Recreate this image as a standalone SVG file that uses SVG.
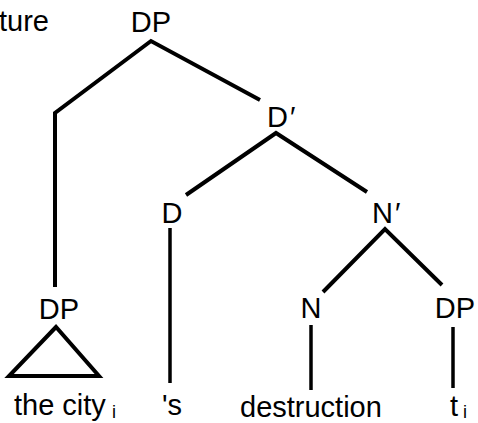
<svg xmlns="http://www.w3.org/2000/svg" width="478" height="423" viewBox="0 0 478 423">
  <style>
    text { font-family: "Liberation Sans", Arial, sans-serif; font-size: 29px; fill: #000; }
    .lbl { text-anchor: middle; }
    .sub { font-size: 18px; }
    .edge { stroke: #000; stroke-width: 4; fill: none; stroke-linejoin: miter; stroke-linecap: butt; }
    .stem { stroke: #000; stroke-width: 3.5; fill: none; }
  </style>

  <rect width="478" height="423" fill="#fff"/>

  <!-- caption fragment at the top-left edge -->
  <text x="-1" y="31">ture</text>

  <g id="connectors">
    <polyline class="edge" points="55,287 55,113 151,41 260,100"/>
    <polyline class="edge" points="186,195 276,133 367,192"/>
    <polyline class="edge" points="323,292 385,229 442,285"/>
    <line class="stem" x1="170" y1="228" x2="170" y2="383"/>
    <line class="stem" x1="311" y1="325" x2="311" y2="390"/>
    <line class="stem" x1="453" y1="327" x2="453" y2="388"/>
    <polygon class="edge" points="56,327 9,376 99,376"/>
  </g>

  <g id="node-dp-root"><text class="lbl" x="151" y="32">DP</text></g>
  <g id="node-dbar"><text x="267" y="127">D<tspan dx="2">′</tspan></text></g>
  <g id="node-d"><text class="lbl" x="172" y="223">D</text></g>
  <g id="node-nbar"><text x="372" y="223">N<tspan dx="2">′</tspan></text></g>
  <g id="node-dp-spec"><text class="lbl" x="59" y="319">DP</text></g>
  <g id="node-n"><text class="lbl" x="311" y="318">N</text></g>
  <g id="node-dp-comp"><text class="lbl" x="455" y="318">DP</text></g>

  <g id="leaf-the-city"><text x="14" y="415">the city<tspan class="sub" dx="6" dy="3">i</tspan></text></g>
  <g id="leaf-s"><text x="162" y="415">'s</text></g>
  <g id="leaf-destruction"><text x="240" y="417">destruction</text></g>
  <g id="leaf-trace"><text x="450" y="416">t<tspan class="sub" dx="5" dy="2">i</tspan></text></g>
</svg>
